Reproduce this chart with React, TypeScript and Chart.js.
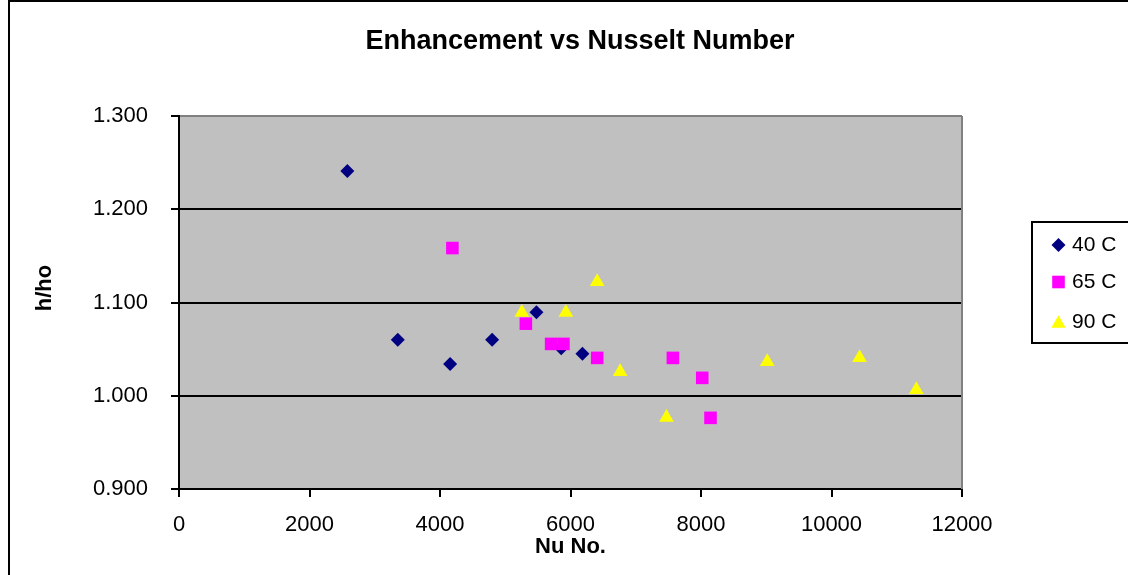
import React, { useEffect, useRef } from "react";
import { Chart, registerables } from "chart.js";

Chart.register(...registerables);

const chartTitle = "Enhancement vs Nusselt Number";
const xTitle = "Nu No.";
const yTitle = "h/ho";
const seriesNames = ["40 C", "65 C", "90 C"];

const nu40 = [2580, 3353, 4155, 4799, 5478, 5857, 6183];
const h40 = [1.241, 1.06, 1.034, 1.06, 1.0895, 1.051, 1.045];

const nu65 = [4190, 5316, 5703, 5892, 6409, 7569, 8019, 8146];
const h65 = [1.1584, 1.0773, 1.0556, 1.0556, 1.0406, 1.0406, 1.0192, 0.9763];

const nu90 = [5254, 5929, 6409, 6761, 7471, 9015, 10430, 11300];
const h90 = [1.0893, 1.0893, 1.1222, 1.0258, 0.9766, 1.0365, 1.0408, 1.0065];

const xMin = 0;
const xMax = 12000;
const xStep = 2000;
const yMin = 0.9;
const yMax = 1.3;
const yStep = 0.1;

const W = 1128;
const H = 575;
const FONT = '"Liberation Sans", Arial, sans-serif';

const toPts = (xs: number[], ys: number[]) => xs.map((x, i) => ({ x, y: ys[i] }));

const decorPlugin = {
  id: "decor",
  beforeDraw(chart: any) {
    const { ctx, chartArea } = chart;
    ctx.save();
    ctx.fillStyle = "#ffffff";
    ctx.fillRect(0, 0, W, H);
    ctx.fillStyle = "#C0C0C0";
    ctx.fillRect(chartArea.left, chartArea.top, chartArea.right - chartArea.left, chartArea.bottom - chartArea.top);
    ctx.restore();
  },
  beforeDatasetsDraw(chart: any) {
    const { ctx, chartArea } = chart;
    ctx.save();
    ctx.strokeStyle = "#808080";
    ctx.lineWidth = 2;
    ctx.beginPath();
    ctx.moveTo(chartArea.right, chartArea.top);
    ctx.lineTo(chartArea.right, chartArea.bottom);
    ctx.stroke();
    ctx.restore();
  },
  afterDraw(chart: any) {
    const { ctx, chartArea } = chart;
    ctx.save();
    // outer border
    ctx.strokeStyle = "#000";
    ctx.lineWidth = 2;
    ctx.strokeRect(9, 1, W + 20, H + 20);

    // title
    ctx.fillStyle = "#000";
    ctx.textAlign = "center";
    ctx.textBaseline = "middle";
    ctx.font = `bold 27px ${FONT}`;
    ctx.fillText(chartTitle, 580, 42);

    // x title
    ctx.font = `bold 22px ${FONT}`;
    ctx.fillText(xTitle, (chartArea.left + chartArea.right) / 2, 547);

    // y title
    ctx.save();
    ctx.translate(45, 288);
    ctx.rotate(-Math.PI / 2);
    ctx.fillText(yTitle, 0, 0);
    ctx.restore();

    // legend
    ctx.fillStyle = "#fff";
    ctx.fillRect(1032, 222, 120, 121);
    ctx.strokeStyle = "#000";
    ctx.lineWidth = 2;
    ctx.strokeRect(1032, 222, 120, 121);
    const rows = [245, 282, 322];
    chart.data.datasets.forEach((ds: any, i: number) => {
      const y = rows[i];
      const x = 1058.5;
      ctx.fillStyle = ds.backgroundColor;
      ctx.beginPath();
      if (ds.pointStyle === "rectRot") {
        const r = 7;
        ctx.moveTo(x - r, y);
        ctx.lineTo(x, y - r);
        ctx.lineTo(x + r, y);
        ctx.lineTo(x, y + r);
      } else if (ds.pointStyle === "rect") {
        const s = 6.3;
        ctx.rect(x - s, y - s, 2 * s, 2 * s);
      } else {
        const r = 8.3;
        const yc = y + 1.5;
        ctx.moveTo(x, yc - r);
        ctx.lineTo(x + r * Math.sin((2 * Math.PI) / 3), yc - r * Math.cos((2 * Math.PI) / 3));
        ctx.lineTo(x + r * Math.sin((4 * Math.PI) / 3), yc - r * Math.cos((4 * Math.PI) / 3));
      }
      ctx.closePath();
      ctx.fill();
      ctx.fillStyle = "#000";
      ctx.textAlign = "left";
      ctx.textBaseline = "middle";
      ctx.font = `21px ${FONT}`;
      ctx.fillText(seriesNames[i], 1072, y);
    });
    ctx.restore();
  },
};

export default function App() {
  const ref = useRef<HTMLCanvasElement | null>(null);

  useEffect(() => {
    if (!ref.current) return;
    const chart = new Chart(ref.current, {
      type: "scatter",
      data: {
        datasets: [
          {
            label: seriesNames[0],
            data: toPts(nu40, h40),
            pointStyle: "rectRot",
            pointRadius: 7,
            pointHoverRadius: 7,
            backgroundColor: "#000080",
            borderColor: "#000080",
            borderWidth: 0,
            order: 3,
          },
          {
            label: seriesNames[1],
            data: toPts(nu65, h65),
            pointStyle: "rect",
            pointRadius: 8.9,
            pointHoverRadius: 8.9,
            backgroundColor: "#FF00FF",
            borderColor: "#FF00FF",
            borderWidth: 0,
            order: 2,
          },
          {
            label: seriesNames[2],
            data: toPts(nu90, h90),
            pointStyle: "triangle",
            pointRadius: 8.5,
            pointHoverRadius: 8.5,
            backgroundColor: "#FFFF00",
            borderColor: "#FFFF00",
            borderWidth: 0,
            order: 1,
          },
        ],
      },
      options: {
        animation: false,
        responsive: false,
        devicePixelRatio: 1,
        layout: { padding: { left: 0, top: 116, right: 166, bottom: 0 } },
        plugins: {
          legend: { display: false },
          title: { display: false },
          tooltip: { enabled: false },
        },
        scales: {
          x: {
            type: "linear",
            min: xMin,
            max: xMax,
            afterFit: (s: any) => {
              s.height = 86;
            },
            border: { display: true, color: "#000", width: 2 },
            grid: { drawOnChartArea: false, drawTicks: true, tickLength: 8, color: "#000", lineWidth: 2 },
            ticks: {
              stepSize: xStep,
              autoSkip: false,
              maxRotation: 0,
              padding: 15,
              color: "#000",
              font: { family: FONT, size: 22 },
              callback: (v: any) => String(v),
            },
          },
          y: {
            type: "linear",
            min: yMin,
            max: yMax,
            afterFit: (s: any) => {
              s.width = 179;
            },
            border: { display: true, color: "#000", width: 2 },
            grid: {
              drawOnChartArea: true,
              drawTicks: true,
              tickLength: 8,
              lineWidth: 2,
              tickColor: "#000",
              color: (c: any) => (c.tick && Math.abs(c.tick.value - yMax) < 1e-6 ? "#808080" : "#000"),
            },
            ticks: {
              stepSize: yStep,
              padding: 23,
              color: "#000",
              font: { family: FONT, size: 22 },
              callback: (v: any) => Number(v).toFixed(3),
            },
          },
        },
      },
      plugins: [decorPlugin],
    });
    return () => chart.destroy();
  }, []);

  return (
    <div style={{ position: "absolute", left: 0, top: 0, width: W, height: H }}>
      <canvas ref={ref} width={W} height={H} style={{ width: W, height: H, display: "block" }} />
    </div>
  );
}
